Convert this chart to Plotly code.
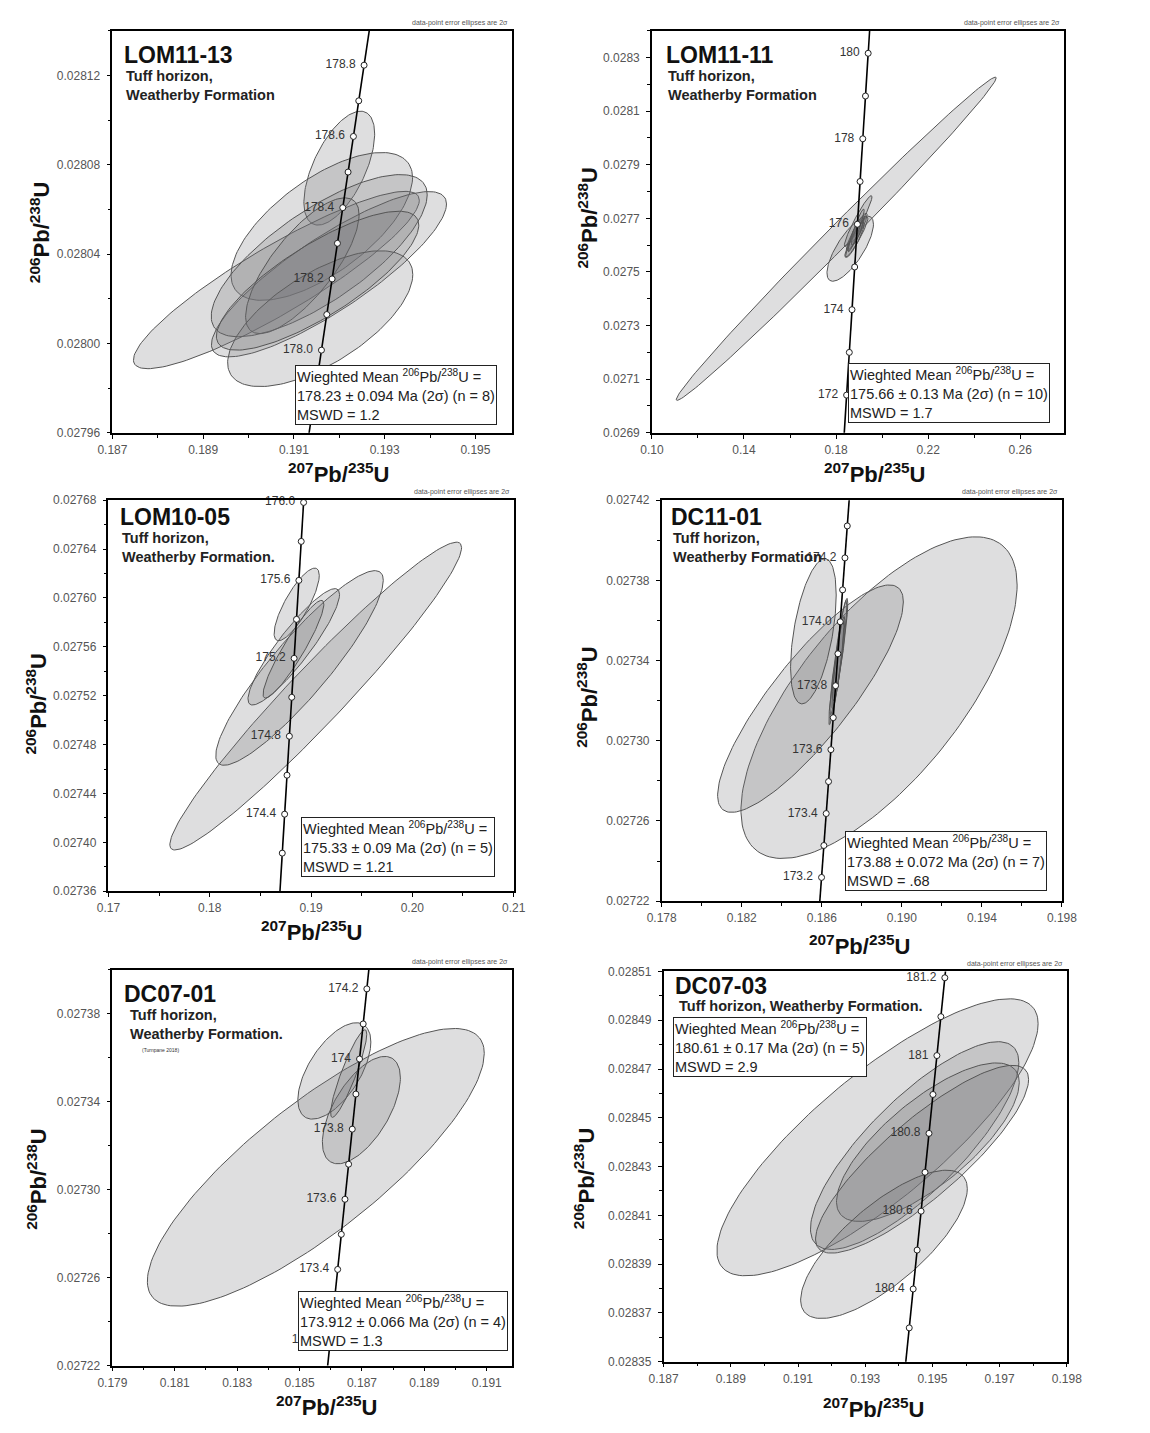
import numpy as np
import plotly.graph_objects as go

W, H = 1150, 1433
L238 = 1.55125e-10
L235 = 9.8485e-10

# ---------------- data ----------------
SAMPLES = ["LOM11-13", "LOM11-11", "LOM10-05", "DC11-01", "DC07-01", "DC07-03"]
SUBTITLES = ["Tuff horizon,<br>Weatherby Formation",
             "Tuff horizon,<br>Weatherby Formation",
             "Tuff horizon,<br>Weatherby Formation.",
             "Tuff horizon,<br>Weatherby Formation",
             "Tuff horizon,<br>Weatherby Formation.",
             "Tuff horizon, Weatherby Formation."]
CITATIONS = ["", "", "", "", "(Turnpane 2018)", "(Turnpane 2010)"]
WM_AGE = ["178.23 ± 0.094", "175.66 ± 0.13", "175.33 ± 0.09",
          "173.88 ± 0.072", "173.912 ± 0.066", "180.61 ± 0.17"]
WM_N = [8, 10, 5, 7, 4, 5]
MSWD = ["1.2", "1.7", "1.21", ".68", "1.3", "2.9"]

# ellipse parameters: centre x, 2-sigma x, centre y, 2-sigma y, rho
P1_X = [0.19200, 0.191615, 0.190614, 0.191773, 0.191558, 0.191186, 0.19158, 0.191522]
P1_SX = [0.00078, 0.00200, 0.00315, 0.00259, 0.00238, 0.00125, 0.00204, 0.00223]
P1_Y = [0.0280785, 0.0280524, 0.0280284, 0.0280310, 0.0280393, 0.0280348, 0.0280111, 0.0280281]
P1_SY = [0.0000255, 0.0000331, 0.0000397, 0.0000370, 0.0000363, 0.0000304, 0.0000304, 0.0000311]
P1_RHO = [0.60, 0.66, 0.90, 0.85, 0.75, 0.75, 0.65, 0.80]

P2_X = [0.18007, 0.18615, 0.1890, 0.1885, 0.1893, 0.1888, 0.1896, 0.1882, 0.1891, 0.1887]
P2_SX = [0.0695, 0.0101, 0.0045, 0.0035, 0.0030, 0.0050, 0.0060, 0.0040, 0.0025, 0.0035]
P2_Y = [0.027624, 0.027587, 0.027650, 0.027640, 0.027660, 0.027630, 0.027690, 0.027620, 0.027645, 0.027655]
P2_SY = [0.000603, 0.0001215, 0.000070, 0.000060, 0.000050, 0.000075, 0.000095, 0.000065, 0.000045, 0.000080]
P2_RHO = [0.995, 0.75, 0.92, 0.90, 0.88, 0.93, 0.95, 0.90, 0.85, 0.94]

P3_X = [0.19046, 0.18886, 0.18829, 0.18858, 0.18826]
P3_SX = [0.01440, 0.00827, 0.00452, 0.00223, 0.00300]
P3_Y = [0.0275197, 0.0275427, 0.0275600, 0.0275947, 0.0275580]
P3_SY = [0.0001259, 0.0000796, 0.0000476, 0.0000297, 0.0000400]
P3_RHO = [0.965, 0.90, 0.90, 0.80, 0.92]

P4_X = [0.18886, 0.185435, 0.185581, 0.18685, 0.18690, 0.18675, 0.18680]
P4_SX = [0.00690, 0.00464, 0.00114, 0.00045, 0.00035, 0.00040, 0.00030]
P4_Y = [0.0273215, 0.0273210, 0.0273546, 0.0273420, 0.0273450, 0.0273350, 0.0273380]
P4_SY = [0.0000802, 0.0000567, 0.0000362, 0.0000290, 0.0000250, 0.0000270, 0.0000220]
P4_RHO = [0.70, 0.85, 0.50, 0.92, 0.90, 0.93, 0.88]

P5_X = [0.185521, 0.186115, 0.186981, 0.186574]
P5_SX = [0.00540, 0.00117, 0.00125, 0.00058]
P5_Y = [0.0273101, 0.0273539, 0.0273361, 0.0273527]
P5_SY = [0.0000631, 0.0000219, 0.0000244, 0.0000199]
P5_RHO = [0.82, 0.60, 0.60, 0.90]

P6_X = [0.193365, 0.194471, 0.194865, 0.194692, 0.193558]
P6_SX = [0.00478, 0.00310, 0.00272, 0.00317, 0.00248]
P6_Y = [0.0284420, 0.0284386, 0.0284400, 0.0284330, 0.0283981]
P6_SY = [0.0000568, 0.0000426, 0.0000325, 0.0000385, 0.0000304]
P6_RHO = [0.82, 0.80, 0.75, 0.85, 0.75]

# concordia age marks (Ma)
P1_MARKS = [177.9, 178.0, 178.1, 178.2, 178.3, 178.4, 178.5, 178.6, 178.7, 178.8]
P1_LABELS = ["178.0", "178.2", "178.4", "178.6", "178.8"]
P2_MARKS = [172, 173, 174, 175, 176, 177, 178, 179, 180]
P2_LABELS = ["172", "174", "176", "178", "180"]
P3_MARKS = [174.2, 174.4, 174.6, 174.8, 175.0, 175.2, 175.4, 175.6, 175.8, 176.0]
P3_LABELS = ["174.4", "174.8", "175.2", "175.6", "176.0"]
P4_MARKS = [173.2, 173.3, 173.4, 173.5, 173.6, 173.7, 173.8, 173.9, 174.0, 174.1, 174.2, 174.3]
P4_LABELS = ["173.2", "173.4", "173.6", "173.8", "174.0", "174.2"]
P5_MARKS = [173.2, 173.3, 173.4, 173.5, 173.6, 173.7, 173.8, 173.9, 174.0, 174.1, 174.2]
P5_LABELS = ["173.2", "173.4", "173.6", "173.8", "174", "174.2"]
P6_MARKS = [180.3, 180.4, 180.5, 180.6, 180.7, 180.8, 180.9, 181.0, 181.1, 181.2]
P6_LABELS = ["180.4", "180.6", "180.8", "181", "181.2"]

P6_XTICKS = [0.187, 0.189, 0.191, 0.193, 0.195, 0.197, 0.199]
P6_XTICKTEXT = ["0.187", "0.189", "0.191", "0.193", "0.195", "0.197", "0.198"]

ELL = [(P1_X, P1_SX, P1_Y, P1_SY, P1_RHO), (P2_X, P2_SX, P2_Y, P2_SY, P2_RHO),
       (P3_X, P3_SX, P3_Y, P3_SY, P3_RHO), (P4_X, P4_SX, P4_Y, P4_SY, P4_RHO),
       (P5_X, P5_SX, P5_Y, P5_SY, P5_RHO), (P6_X, P6_SX, P6_Y, P6_SY, P6_RHO)]
MARKS = [P1_MARKS, P2_MARKS, P3_MARKS, P4_MARKS, P5_MARKS, P6_MARKS]
LABELS = [P1_LABELS, P2_LABELS, P3_LABELS, P4_LABELS, P5_LABELS, P6_LABELS]

# ---------------- layout (pixels) ----------------
PANELS = [
    dict(box=(100, 510, 24, 430), xr=(0.187, 0.1958), xd=0.002, xm=0.001, xf=".3f",
         yr=(0.02796, 0.02814), yd=0.00004, ym=0.00002, yf=".5f",
         name=(110, 33), sub=(112, 60), wm=(287, 362), xt=(333, 471), yt=(25, 227)),
    dict(box=(654, 1077, 24, 430), xr=(0.10, 0.279), xd=0.04, xm=0.02, xf=".2f",
         yr=(0.0269, 0.0284), yd=0.0002, ym=0.0001, yf=".4f",
         name=(666, 33), sub=(668, 60), wm=(855, 360), xt=(883, 471), yt=(588, 213)),
    dict(box=(96, 512, 498, 893), xr=(0.17, 0.21), xd=0.01, xm=0.005, xf=".2f",
         yr=(0.02736, 0.02768), yd=0.00004, ym=0.00002, yf=".5f",
         name=(106, 500), sub=(108, 526), wm=(294, 818), xt=(305, 933), yt=(22, 703)),
    dict(box=(664, 1075, 498, 903), xr=(0.178, 0.198), xd=0.004, xm=0.002, xf=".3f",
         yr=(0.02722, 0.02742), yd=0.00004, ym=0.00002, yf=".5f",
         name=(672, 500), sub=(674, 526), wm=(852, 832), xt=(868, 947), yt=(588, 697)),
    dict(box=(100, 510, 972, 1372), xr=(0.179, 0.1918), xd=0.002, xm=0.001, xf=".3f",
         yr=(0.02722, 0.02740), yd=0.00004, ym=0.00002, yf=".5f",
         name=(110, 982), sub=(116, 1008), wm=(291, 1297), xt=(320, 1413), yt=(23, 1183)),
    dict(box=(666, 1080, 974, 1368), xr=(0.187, 0.199), xd=0.002, xm=0.001, xf=".3f",
         yr=(0.02835, 0.02851), yd=0.00002, ym=0.00001, yf=".5f",
         name=(676, 974), sub=(680, 999), wm=(676, 1020), xt=(882, 1415), yt=(585, 1183)),
]

FONT = "Liberation Sans, Arial, sans-serif"


def px(x):
    return x / W


def py(y):
    return 1 - y / H


def ellipse(cx, sx, cy, sy, rho, n=160):
    th = np.linspace(0, 2 * np.pi, n)
    x = cx + sx * np.cos(th)
    y = cy + sy * (rho * np.cos(th) + np.sqrt(1 - rho ** 2) * np.sin(th))
    return x, y


fig = go.Figure()
annotations = []
layout = dict(width=W, height=H, margin=dict(l=0, r=0, t=0, b=0),
              paper_bgcolor="white", plot_bgcolor="white", showlegend=False,
              font=dict(family=FONT))

for i, p in enumerate(PANELS):
    k = "" if i == 0 else str(i + 1)
    xa, ya = "x" + k, "y" + k
    x0, x1, yt0, yb1 = p["box"]

    # ellipses
    ex, esx, ey, esy, erho = ELL[i]
    for j in range(len(ex)):
        xs, ys = ellipse(ex[j], esx[j], ey[j], esy[j], erho[j])
        fig.add_trace(go.Scatter(x=xs, y=ys, mode="lines", fill="toself",
                                 fillcolor="rgba(115,118,122,0.24)",
                                 line=dict(color="#555555", width=1),
                                 xaxis=xa, yaxis=ya, hoverinfo="skip"))

    # concordia curve
    tlo = np.log(1 + p["yr"][0] - 0.00003) / L238
    thi = np.log(1 + p["yr"][1] + 0.00003) / L238
    t = np.linspace(tlo, thi, 200)
    fig.add_trace(go.Scatter(x=np.exp(L235 * t) - 1, y=np.exp(L238 * t) - 1,
                             mode="lines", line=dict(color="black", width=1.6),
                             xaxis=xa, yaxis=ya, hoverinfo="skip"))
    m = np.array(MARKS[i]) * 1e6
    fig.add_trace(go.Scatter(x=np.exp(L235 * m) - 1, y=np.exp(L238 * m) - 1,
                             mode="markers", cliponaxis=False,
                             marker=dict(symbol="circle", size=6, color="white",
                                         line=dict(color="#222", width=1)),
                             xaxis=xa, yaxis=ya, hoverinfo="skip"))
    la = np.array([float(s) for s in LABELS[i]]) * 1e6
    fig.add_trace(go.Scatter(x=np.exp(L235 * la) - 1, y=np.exp(L238 * la) - 1,
                             mode="markers+text", text=LABELS[i], textposition="middle left",
                             cliponaxis=False,
                             marker=dict(size=12, color="rgba(0,0,0,0)"),
                             textfont=dict(size=12, color="#333", family=FONT),
                             xaxis=xa, yaxis=ya, hoverinfo="skip"))

    axcommon = dict(showgrid=False, zeroline=False, showline=True, mirror=True,
                    linecolor="black", linewidth=1.5, ticks="outside", ticklen=4,
                    tickcolor="black", tickwidth=1, ticklabelstandoff=1,
                    tickfont=dict(size=12, color="#555", family=FONT))
    xaxis = dict(axcommon, domain=[px(x0), px(x1)], range=list(p["xr"]), anchor=ya,
                 tickformat=p["xf"], tick0=p["xr"][0], dtick=p["xd"],
                 minor=dict(ticks="outside", ticklen=3, tickcolor="black",
                            tick0=p["xr"][0], dtick=p["xm"]))
    if i == 5:
        xaxis.update(tickmode="array", tickvals=P6_XTICKS, ticktext=P6_XTICKTEXT)
        xaxis.pop("tick0")
        xaxis.pop("dtick")
    yaxis = dict(axcommon, domain=[py(yb1), py(yt0)], range=list(p["yr"]), anchor=xa,
                 tickformat=p["yf"], tick0=p["yr"][0], dtick=p["yd"],
                 ticklabelstandoff=4,
                 minor=dict(ticks="outside", ticklen=3, tickcolor="black",
                            tick0=p["yr"][0], dtick=p["ym"]))
    layout["xaxis" + k] = xaxis
    layout["yaxis" + k] = yaxis

    # texts
    annotations.append(dict(xref="paper", yref="paper", x=px(p["name"][0]), y=py(p["name"][1]),
                            xanchor="left", yanchor="top", showarrow=False,
                            text="<b>" + SAMPLES[i] + "</b>",
                            font=dict(size=23, color="#111", family=FONT)))
    annotations.append(dict(xref="paper", yref="paper", x=px(p["sub"][0]), y=py(p["sub"][1]),
                            xanchor="left", yanchor="top", showarrow=False, align="left",
                            text="<b>" + SUBTITLES[i] + "</b>",
                            font=dict(size=14.5, color="#222", family=FONT)))
    if CITATIONS[i]:
        cy = p["sub"][1] + (40 if i == 4 else 18)
        annotations.append(dict(xref="paper", yref="paper", x=px(p["sub"][0] + 12), y=py(cy),
                                xanchor="left", yanchor="top", showarrow=False,
                                text=CITATIONS[i], font=dict(size=5, color="#333", family=FONT)))
    annotations.append(dict(xref="paper", yref="paper", x=px(x1 - 2), y=py(yt0 - 2),
                            xanchor="right", yanchor="bottom", showarrow=False,
                            text="data-point error ellipses are 2σ",
                            font=dict(size=7, color="#555", family=FONT)))
    wm_text = ("Wieghted Mean <sup>206</sup>Pb/<sup>238</sup>U =<br>"
               + WM_AGE[i] + " Ma (2σ) (n = " + str(WM_N[i]) + ")<br>MSWD = " + MSWD[i])
    annotations.append(dict(xref="paper", yref="paper", x=px(p["wm"][0]), y=py(p["wm"][1]),
                            xanchor="left", yanchor="top", showarrow=False, align="left",
                            text=wm_text, bgcolor="white", bordercolor="#222",
                            borderwidth=1, borderpad=1,
                            font=dict(size=14.5, color="#222", family=FONT)))
    annotations.append(dict(xref="paper", yref="paper", x=px(p["xt"][0]), y=py(p["xt"][1]),
                            xanchor="center", yanchor="middle", showarrow=False,
                            text="<b><sup>207</sup>Pb/<sup>235</sup>U</b>",
                            font=dict(size=22, color="#111", family=FONT)))
    annotations.append(dict(xref="paper", yref="paper", x=px(p["yt"][0]), y=py(p["yt"][1]),
                            xanchor="center", yanchor="middle", showarrow=False, textangle=-90,
                            text="<b><sup>206</sup>Pb/<sup>238</sup>U</b>",
                            font=dict(size=22, color="#111", family=FONT)))

layout["annotations"] = annotations
fig.update_layout(**layout)
fig.write_html("out.html")
